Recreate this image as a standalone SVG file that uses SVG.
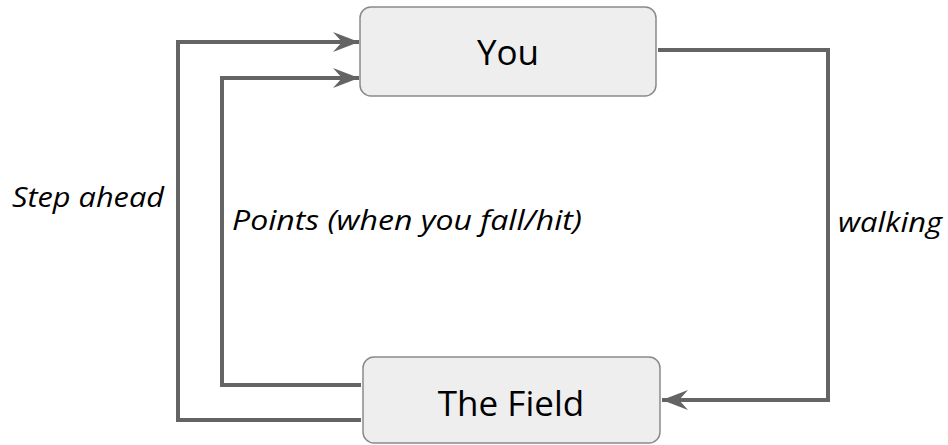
<svg xmlns="http://www.w3.org/2000/svg" width="948" height="445" viewBox="0 0 948 445">
<style>
.node{fill:#eeeeee;stroke:#8a8a8a;stroke-width:1.5}
.nt{font-family:"Open Sans","Liberation Sans",sans-serif;font-size:35px;fill:#000;text-anchor:middle}
.lbl{font-family:"Open Sans","Liberation Sans",sans-serif;font-style:italic;font-size:28px;fill:#000}
.edge{fill:none;stroke:#646464;stroke-width:4;stroke-linejoin:miter}
</style>
<defs>
<marker id="ah" markerUnits="userSpaceOnUse" markerWidth="30" markerHeight="24" refX="26" refY="10" orient="auto" viewBox="0 0 30 24">
<path d="M0,0 L26,10 L0,20 L9,10 Z" fill="#646464"/>
</marker>
</defs>
<rect width="948" height="445" fill="#fff"/>
<g id="connectors">
<path class="edge" d="M361,420 H178 V42 H359" marker-end="url(#ah)"/>
<path class="edge" d="M361,385 H222 V78 H359" marker-end="url(#ah)"/>
<path class="edge" d="M658,50 H828 V400 H662" marker-end="url(#ah)"/>
</g>
<g id="node-you">
<rect class="node" x="360" y="7" width="296" height="89" rx="11"/>
<text class="nt" x="508" y="65">You</text>
</g>
<g id="node-field">
<rect class="node" x="363" y="357" width="297" height="86" rx="11"/>
<text class="nt" x="511" y="416">The Field</text>
</g>
<g id="labels">
<text class="lbl" x="12" y="207" textLength="152" lengthAdjust="spacingAndGlyphs">Step ahead</text>
<text class="lbl" x="232" y="230" textLength="350" lengthAdjust="spacingAndGlyphs">Points (when you fall/hit)</text>
<text class="lbl" x="838" y="232" textLength="104" lengthAdjust="spacingAndGlyphs">walking</text>
</g>
</svg>
